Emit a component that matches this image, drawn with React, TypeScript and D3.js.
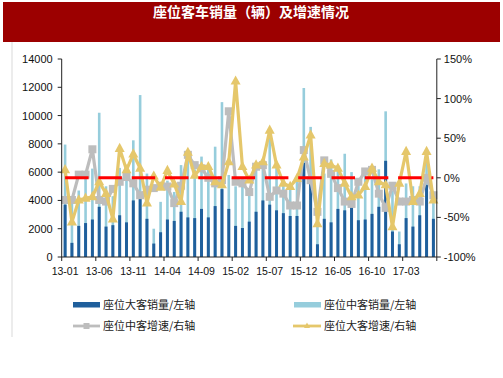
import React from "react";
import * as d3 from "d3";

const months = [
  "13-01","13-02","13-03","13-04","13-05","13-06","13-07","13-08","13-09","13-10","13-11","13-12",
  "14-01","14-02","14-03","14-04","14-05","14-06","14-07","14-08","14-09","14-10","14-11","14-12",
  "15-01","15-02","15-03","15-04","15-05","15-06","15-07","15-08","15-09","15-10","15-11","15-12",
  "16-01","16-02","16-03","16-04","16-05","16-06","16-07","16-08","16-09","16-10","16-11","16-12",
  "17-01","17-02","17-03","17-04","17-05","17-06","17-07"
];

// 座位大客销量 (left axis)
const bigSales = [
  3700, 1000, 2200, 2400, 2650, 3550, 2150, 2250, 2950, 2450,
  4000, 4200, 2700, 950, 1750, 2650, 2550, 3200, 2800, 2750,
  3400, 2800, 3600, 4800, 3400, 2200, 2050, 2500, 3200, 4000,
  3700, 3300, 3100, 2900, 2900, 6650, 5150, 900, 2700, 2450,
  3400, 3300, 3600, 2600, 2650, 3050, 3550, 6800, 1800, 900,
  2750, 2150, 2950, 5100, 2700
];

// 座位中客销量 (left axis)
const midSales = [
  7950, 4000, 4700, 5900, 6250, 10200, 5000, 4300, 6300, 5650,
  8250, 11450, 5900, 2000, 3900, 5400, 4600, 6500, 7000, 6200,
  7100, 6300, 7800, 10950, 5800, 5000, 5500, 4700, 6400, 6800,
  9000, 6500, 5500, 5000, 5600, 11950, 9200, 2400, 5900, 6900,
  6500, 7300, 6000, 5300, 6000, 5500, 6200, 10300, 4700, 1800,
  5200, 5000, 5000, 6800, 4500
];

// 座位中客增速 (right axis, %)
const midGrowth = [
  -28, -28, 4, 4, 36, -28, -30, -14, -5, 1,
  -7, -22, -15, -13, -10, -11, -32, -10, 29, 16,
  12, 0, -7, -3, 84, -5, -7, -18, 14, 16,
  -24, -16, -20, -35, -35, 35, -3, -43, 22, 5,
  -13, -30, -33, -5, 8, 10, -20, -38, -10, -30,
  -30, -28, -30, 0, -22
];

// 座位大客增速 (right axis, %)
const bigGrowth = [
  10, -56, -28, -26, -24, -5, -20, -52, 37, 10,
  30, 12, -32, 2, -12, 9, -8, -30, 32, 3,
  14, 14, -5, -9, 20, 122, 14, -3, 16, 20,
  60, 16, -7, -11, -1, 26, 54, -58, 18, 16,
  12, -7, -24, -22, -11, 12, -5, -9, -62, -7,
  33, -30, -20, 33, -28
];

const zeroLine = months.map(() => 0);

const leftTicks = [0, 2000, 4000, 6000, 8000, 10000, 12000, 14000];
const rightTicks = [-100, -50, 0, 50, 100, 150];
const xLabelStep = 5;

const title = "座位客车销量（辆）及增速情况";
const legendItems = [
  "座位大客销量/左轴",
  "座位中客销量/左轴",
  "座位中客增速/右轴",
  "座位大客增速/右轴",
];

const C_DARK = "#1F5F9C";
const C_LIGHT = "#96CDDC";
const C_GREY = "#BDBDBD";
const C_YELLOW = "#E5C76B";
const C_RED = "#FF0000";
const C_TITLE = "#9C0000";

export default function App() {
  const W = 503, H = 378;
  const left = 61.7, right = 436.8, top = 59, bottom = 257;
  const x = d3.scaleBand<string>().domain(months).range([left, right]).padding(0);
  const yL = d3.scaleLinear().domain([0, 14000]).range([bottom, top]);
  const yR = d3.scaleLinear().domain([-100, 150]).range([bottom, top]);
  const bw = x.bandwidth();
  const cx = (i: number) => (x(months[i]) as number) + bw / 2;
  const line = d3.line<number>().x((_, i) => cx(i)).y((v) => yR(v));
  const tri = "M0,-5.8 L5,3.4 L-5,3.4 Z";
  const axisFont = "'Liberation Sans', Arial, sans-serif";
  const cjkFont = "'Noto Sans CJK SC', sans-serif";

  const xTickIdx = d3.range(0, months.length + 1, xLabelStep);

  return (
    <svg width={W} height={H} style={{ position: "absolute", left: 0, top: 0, background: "#fff" }}>
      {/* title bar */}
      <rect x={3} y={2} width={497} height={40} fill={C_TITLE} />
      <text x={251} y={16.5} textAnchor="middle" fill="#fff" fontFamily={cjkFont} fontWeight="bold" fontSize={14}>
        {title}
      </text>
      <line x1={12} y1={42} x2={12} y2={337} stroke="#D9D9D9" strokeWidth={1} />

      {/* bars */}
      {midSales.map((v, i) => (
        <rect key={"m" + i} x={cx(i) - 1.3} y={yL(v)} width={2.6} height={bottom - yL(v)} fill={C_LIGHT} />
      ))}
      {bigSales.map((v, i) => (
        <rect key={"b" + i} x={cx(i) - 1.5} y={yL(v)} width={3} height={bottom - yL(v)} fill={C_DARK} />
      ))}

      {/* grey line */}
      <path d={line(midGrowth) || ""} fill="none" stroke={C_GREY} strokeWidth={3.2} strokeLinejoin="round" />
      {midGrowth.map((v, i) => (
        <rect key={"gs" + i} x={cx(i) - 4} y={yR(v) - 4} width={8} height={8} fill={C_GREY} />
      ))}

      {/* yellow line */}
      <path d={line(bigGrowth) || ""} fill="none" stroke={C_YELLOW} strokeWidth={3.2} strokeLinejoin="round" />
      {bigGrowth.map((v, i) => (
        <path key={"yt" + i} d={tri} transform={`translate(${cx(i)},${yR(v)})`} fill={C_YELLOW} />
      ))}

      {/* red dashed zero line */}
      <path d={line(zeroLine) || ""} fill="none" stroke={C_RED} strokeWidth={3} strokeDasharray="23.5 9.8" />

      {/* left axis */}
      <line x1={left} y1={top} x2={left} y2={bottom} stroke="#222" strokeWidth={1} />
      {leftTicks.map((t) => (
        <g key={"lt" + t}>
          <line x1={left - 4} x2={left} y1={yL(t)} y2={yL(t)} stroke="#222" />
          <text x={left - 9} y={yL(t) + 4} textAnchor="end" fontFamily={axisFont} fontSize={11} fill="#111">
            {t}
          </text>
        </g>
      ))}

      {/* right axis */}
      <line x1={right} y1={top} x2={right} y2={bottom} stroke="#222" strokeWidth={1} />
      {rightTicks.map((t) => (
        <g key={"rt" + t}>
          <line x1={right} x2={right + 4} y1={yR(t)} y2={yR(t)} stroke="#222" />
          <text x={right + 7} y={yR(t) + 4} textAnchor="start" fontFamily={axisFont} fontSize={11} fill="#111">
            {t + "%"}
          </text>
        </g>
      ))}

      {/* bottom axis */}
      <line x1={left} y1={bottom} x2={right} y2={bottom} stroke="#222" strokeWidth={1} />
      {xTickIdx.map((i) => {
        const xx = i < months.length ? (x(months[i]) as number) : right;
        return <line key={"xt" + i} x1={xx} x2={xx} y1={bottom} y2={bottom + 4} stroke="#222" />;
      })}
      {months.map((m, i) =>
        i % xLabelStep === 0 ? (
          <text key={"xl" + i} x={cx(i)} y={275} textAnchor="middle" fontFamily={axisFont} fontSize={10.5} fill="#111">
            {m}
          </text>
        ) : null
      )}

      {/* legend */}
      <rect x={73} y={302} width={27} height={5.5} fill={C_DARK} />
      <text x={103} y={309} fontFamily={cjkFont} fontSize={11} fill="#222">{legendItems[0]}</text>
      <rect x={294} y={302} width={27} height={5.5} fill={C_LIGHT} />
      <text x={324} y={309} fontFamily={cjkFont} fontSize={11} fill="#222">{legendItems[1]}</text>

      <line x1={73} x2={100} y1={326} y2={326} stroke={C_GREY} strokeWidth={2.8} />
      <rect x={83.5} y={323} width={6} height={6} fill={C_GREY} />
      <text x={103} y={330} fontFamily={cjkFont} fontSize={11} fill="#222">{legendItems[2]}</text>
      <line x1={293} x2={321} y1={326} y2={326} stroke={C_YELLOW} strokeWidth={2.8} />
      <path d="M0,-3.5 L3,2 L-3,2 Z" transform="translate(307,326)" fill={C_YELLOW} />
      <text x={324} y={330} fontFamily={cjkFont} fontSize={11} fill="#222">{legendItems[3]}</text>
    </svg>
  );
}
